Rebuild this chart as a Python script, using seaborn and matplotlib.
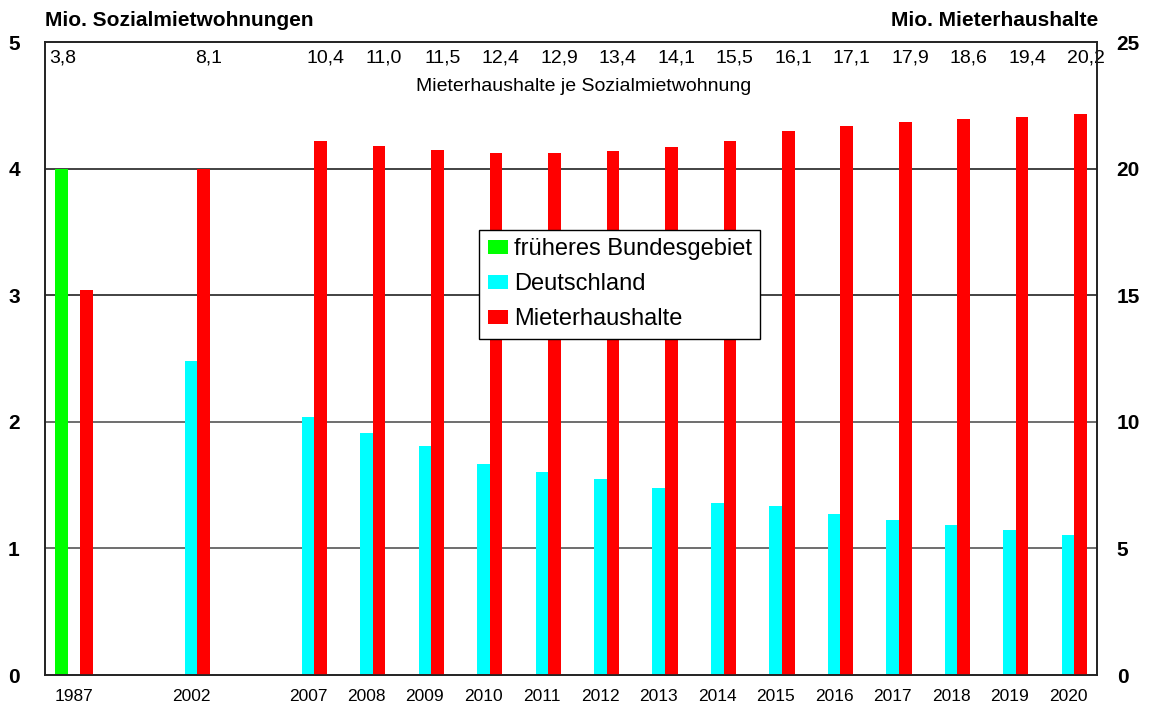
import matplotlib
matplotlib.use("Agg")
import matplotlib.pyplot as plt
import matplotlib.transforms as mtransforms
from matplotlib.patches import Patch
import pandas as pd
import seaborn as sns

# Data (Mio.)
years = ["1987", "2002", "2007", "2008", "2009", "2010", "2011", "2012",
         "2013", "2014", "2015", "2016", "2017", "2018", "2019", "2020"]
frueheres_years = ["1987"]
frueheres_bg = [4.0]
deutschland_years = years[1:]
deutschland = [2.48, 2.04, 1.91, 1.81, 1.67, 1.60, 1.545, 1.48,
               1.36, 1.335, 1.275, 1.225, 1.185, 1.145, 1.105]
mieterhaushalte = [15.2, 20.0, 21.1, 20.9, 20.75, 20.6, 20.6, 20.7,
                   20.85, 21.1, 21.5, 21.7, 21.85, 21.95, 22.05, 22.15]
ratio_labels = ["3,8", "8,1", "10,4", "11,0", "11,5", "12,4", "12,9", "13,4",
                "14,1", "15,5", "16,1", "17,1", "17,9", "18,6", "19,4", "20,2"]

series = ["früheres Bundesgebiet", "Deutschland", "Mieterhaushalte"]
colors = {"früheres Bundesgebiet": "#00ff00",
          "Deutschland": "#00ffff",
          "Mieterhaushalte": "#ff0000"}

# slot order with empty slots for the years not shown
slots = ["1987", "_gap1", "2002", "_gap2"] + years[2:]

left = pd.DataFrame({
    "Jahr": frueheres_years + deutschland_years,
    "Serie": [series[0]] * len(frueheres_years) + [series[1]] * len(deutschland_years),
    "Wert": frueheres_bg + deutschland,
})
right = pd.DataFrame({"Jahr": years, "Serie": series[2], "Wert": mieterhaushalte})

sns.set_theme(style="white")
plt.rcParams["font.family"] = ["Liberation Sans", "DejaVu Sans"]
plt.rcParams["text.color"] = "black"
plt.rcParams["xtick.color"] = "black"
plt.rcParams["ytick.color"] = "black"

fig = plt.figure(figsize=(11.49, 7.11), dpi=100)
ax = fig.add_axes([0.039, 0.0506, 0.916, 0.8903])
ax2 = ax.twinx()

common = dict(x="Jahr", y="Wert", hue="Serie", order=slots, hue_order=series,
              palette=colors, width=0.645, dodge=True, saturation=1,
              errorbar=None, linewidth=0, legend=False)
sns.barplot(data=left, ax=ax, **common)
sns.barplot(data=right, ax=ax2, **common)

ax.set_xlim(-0.5, len(slots) - 0.5)
ax.set_ylim(0, 5)
ax2.set_ylim(0, 25)
ax.set_yticks(range(6))
ax2.set_yticks(range(0, 26, 5))
ax.set_xticks(range(len(slots)))
ax.set_xticklabels(["" if s.startswith("_") else s for s in slots], fontsize=12.5)
ax.set_xlabel("")
ax.set_ylabel("")
ax2.set_ylabel("")

ax.tick_params(axis="x", length=0, pad=10, colors="black")
ax.tick_params(axis="y", length=0, pad=18, labelsize=15, colors="black")
ax2.tick_params(axis="y", length=0, pad=14, labelsize=15, colors="black")
for lab in ax.get_yticklabels() + ax2.get_yticklabels():
    lab.set_fontweight("bold")

# horizontal grid lines
for v in range(1, 5):
    ax.axhline(v, color="#222222" if v >= 3 else "#555555", lw=1.2, zorder=0)
ax.grid(False)
ax2.grid(False)
for a in (ax, ax2):
    for sp in a.spines.values():
        sp.set_color("#222222")
        sp.set_linewidth(1.2)

# ratio labels (Mieterhaushalte je Sozialmietwohnung)
trans = mtransforms.blended_transform_factory(ax.transData, ax.transAxes)
for yr, lab in zip(years, ratio_labels):
    pos = slots.index(yr)
    if pos == 0:
        ax.text(0.004, 0.975, lab, transform=ax.transAxes, ha="left", va="center", fontsize=14)
    else:
        ax.text(pos + 0.3, 0.975, lab, transform=trans, ha="center", va="center", fontsize=14)
ax.text(0.512, 0.929, "Mieterhaushalte je Sozialmietwohnung", transform=ax.transAxes,
        ha="center", va="center", fontsize=14)

fig.text(0.039, 1 - 20 / 711, "Mio. Sozialmietwohnungen", ha="left", va="center",
         fontsize=15, fontweight="bold")
fig.text(1098 / 1149, 1 - 20 / 711, "Mio. Mieterhaushalte", ha="right", va="center",
         fontsize=15, fontweight="bold")

handles = [Patch(facecolor=colors[s], edgecolor="none", label=s) for s in series]
leg = ax2.legend(handles=handles, loc="upper left", bbox_to_anchor=(0.413, 0.703),
                 fontsize=17, frameon=True, fancybox=False, framealpha=1,
                 edgecolor="black", borderpad=0.35, labelspacing=0.55,
                 handlelength=0.85, handleheight=0.5, handletextpad=0.25,
                 borderaxespad=0)
leg.get_frame().set_linewidth(1.0)

fig.savefig("out.png", dpi=100)
